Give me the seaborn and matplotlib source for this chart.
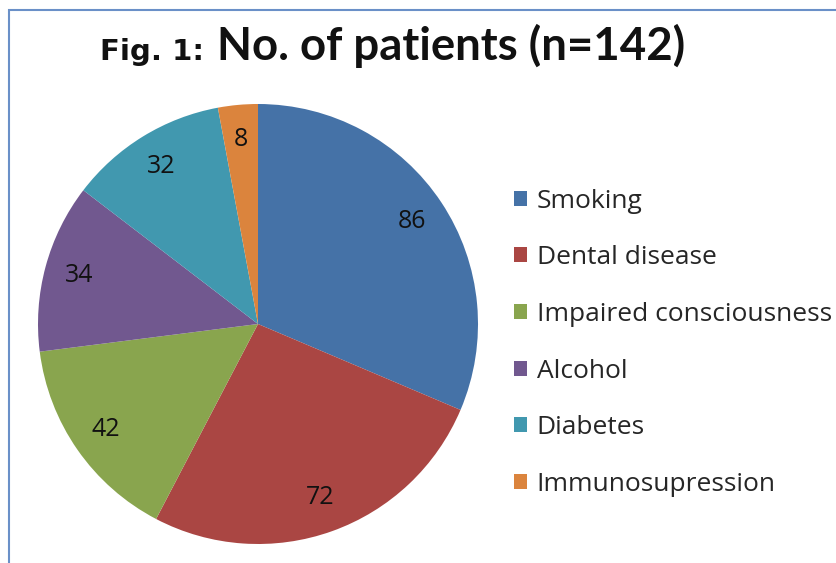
import matplotlib
matplotlib.use("Agg")
import matplotlib.pyplot as plt
from matplotlib.patches import Patch, Rectangle
import seaborn as sns

# data
categories = ["Smoking", "Dental disease", "Impaired consciousness",
              "Alcohol", "Diabetes", "Immunosupression"]
patients = [86, 72, 42, 34, 32, 8]
colors_hex = ["#4572A7", "#AA4643", "#89A54E", "#71588F", "#4198AF", "#DB843D"]

sns.set_theme(style="white")
plt.rcParams["font.family"] = ["Open Sans", "DejaVu Sans"]
palette = sns.color_palette(colors_hex)

W, H = 837, 563
fig = plt.figure(figsize=(W / 100, H / 100), dpi=100)

# pie axes: centre ~ (258, 324) px, radius ~220 px
cx, cy, r = 258, 324, 220
ax = fig.add_axes([(cx - r) / W, (H - cy - r) / H, 2 * r / W, 2 * r / H])
total = sum(patients)
wedges, texts, autotexts = ax.pie(
    patients, colors=palette, startangle=90, counterclock=False,
    autopct=lambda p: f"{round(p * total / 100)}", pctdistance=0.84,
    wedgeprops=dict(linewidth=0), textprops=dict(fontsize=18, color="#111111"))
ax.set_aspect("equal")
ax.set_xlim(-1, 1)
ax.set_ylim(-1, 1)
ax.axis("off")

# legend
handles = [Patch(facecolor=c, edgecolor="none") for c in palette]
fig.legend(handles, categories, loc="upper left",
           bbox_to_anchor=(503 / W, 1 - 178 / H), frameon=False,
           fontsize=19, handlelength=0.5, handleheight=0.5,
           handletextpad=0.38, labelspacing=1.2, borderaxespad=0)

# title in two parts
fig.text(100 / W, 1 - 60 / H, "Fig. 1:", fontsize=21, fontweight="bold",
         family="DejaVu Sans", va="baseline", ha="left", color="#111111")
fig.text(217 / W, 1 - 60 / H, "No. of patients (n=142)", fontsize=32.8,
         fontweight="bold", family="Lato", va="baseline", ha="left",
         color="#111111")

# chart frame (cut off at right and bottom)
fig.add_artist(Rectangle((9 / W, -0.1), 1.2, 1 - 10 / H + 0.1,
                         transform=fig.transFigure, fill=False,
                         edgecolor="#6A90C8", linewidth=1.5))

fig.savefig("out.png", dpi=100)
